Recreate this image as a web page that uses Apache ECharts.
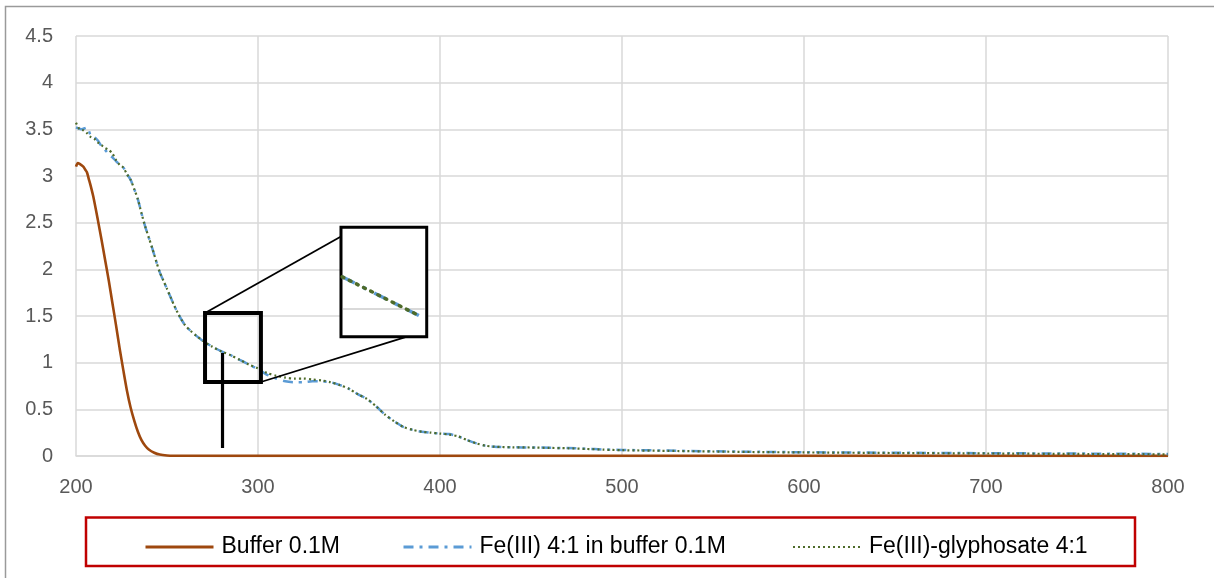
<!DOCTYPE html>
<html>
<head>
<meta charset="utf-8">
<script src="https://cdn.jsdelivr.net/npm/echarts@6/dist/echarts.min.js"></script>
<style>
html,body{margin:0;padding:0;background:#fff;}
#chart{width:1214px;height:578px;}
</style>
</head>
<body>
<div id="chart"></div>
<script>
// ---- Data ----
const seriesNames = ['Buffer 0.1M', 'Fe(III) 4:1 in buffer 0.1M', 'Fe(III)-glyphosate 4:1'];

const bufferWl  = [200, 201, 202, 204, 205, 206, 207, 208, 209.5, 212, 214, 216, 218, 220, 222, 224, 226, 228, 230, 232, 234, 236, 238, 240, 243, 246, 250, 255, 260, 300, 400, 500, 600, 700, 800];
const bufferAbs = [3.10, 3.14, 3.13, 3.10, 3.07, 3.04, 2.97, 2.90, 2.78, 2.53, 2.32, 2.10, 1.88, 1.64, 1.40, 1.15, 0.92, 0.70, 0.52, 0.38, 0.26, 0.17, 0.11, 0.07, 0.035, 0.015, 0.006, 0.003, 0.002, 0.001, 0.001, 0.001, 0.001, 0.001, 0.001];

const feWl  = [200, 203, 206, 208, 210, 212, 214, 216, 218, 220, 222, 224, 226, 228, 230, 232, 234, 236, 238, 240, 242, 244, 246, 248, 250, 252, 254, 256, 258, 260, 263, 266, 270, 275, 280, 285, 290, 295, 300, 305, 310, 315, 320, 325, 330, 335, 340, 345, 350, 355, 360, 365, 370, 375, 380, 385, 390, 395, 400, 405, 410, 415, 420, 425, 430, 440, 450, 460, 470, 480, 490, 500, 525, 550, 575, 600, 650, 700, 750, 800];
const feAbs = [3.52, 3.50, 3.52, 3.44, 3.42, 3.38, 3.32, 3.28, 3.23, 3.20, 3.16, 3.12, 3.09, 3.02, 2.96, 2.86, 2.75, 2.60, 2.46, 2.34, 2.22, 2.09, 1.97, 1.88, 1.79, 1.70, 1.61, 1.53, 1.46, 1.40, 1.34, 1.29, 1.23, 1.17, 1.12, 1.08, 1.03, 0.98, 0.93, 0.87, 0.83, 0.80, 0.79, 0.79, 0.80, 0.80, 0.79, 0.76, 0.72, 0.66, 0.61, 0.53, 0.44, 0.37, 0.31, 0.28, 0.26, 0.25, 0.24, 0.235, 0.21, 0.17, 0.135, 0.11, 0.10, 0.093, 0.092, 0.088, 0.085, 0.078, 0.07, 0.065, 0.058, 0.05, 0.045, 0.04, 0.035, 0.03, 0.026, 0.022];

const glyWl  = [200, 202, 204, 206, 208, 210, 212, 214, 216, 218, 220, 222, 224, 226, 228, 230, 232, 234, 236, 238, 240, 242, 244, 246, 248, 250, 252, 254, 256, 258, 260, 263, 266, 270, 275, 280, 285, 290, 295, 300, 305, 310, 315, 320, 325, 330, 335, 340, 345, 350, 355, 360, 365, 370, 375, 380, 385, 390, 395, 400, 405, 410, 415, 420, 425, 430, 440, 450, 460, 470, 480, 490, 500, 525, 550, 575, 600, 650, 700, 750, 800];
const glyAbs = [3.57, 3.50, 3.49, 3.46, 3.42, 3.40, 3.36, 3.33, 3.30, 3.28, 3.24, 3.17, 3.12, 3.09, 3.02, 2.96, 2.86, 2.75, 2.60, 2.46, 2.34, 2.22, 2.09, 1.97, 1.88, 1.79, 1.70, 1.61, 1.53, 1.46, 1.40, 1.34, 1.29, 1.23, 1.17, 1.12, 1.08, 1.03, 0.98, 0.94, 0.89, 0.86, 0.84, 0.83, 0.83, 0.82, 0.81, 0.79, 0.76, 0.72, 0.66, 0.61, 0.53, 0.44, 0.37, 0.31, 0.28, 0.26, 0.25, 0.24, 0.23, 0.21, 0.17, 0.135, 0.11, 0.10, 0.093, 0.091, 0.087, 0.083, 0.076, 0.068, 0.062, 0.055, 0.048, 0.042, 0.038, 0.032, 0.027, 0.022, 0.018];

const xTicks = [200, 300, 400, 500, 600, 700, 800];
const yTicks = [0, 0.5, 1, 1.5, 2, 2.5, 3, 3.5, 4, 4.5];

// Annotation (zoom inset) expressed in data coordinates
const insetSmall = [[270.9, 1.532], [301.6, 0.793]];
const insetBig   = [[345.6, 2.45], [392.7, 1.278]];
const insetStem  = [[280.5, 1.104], [280.5, 0.086]];
const insetConn1 = [[270.9, 1.532], [345.6, 2.352]];
const insetConn2 = [[301.6, 0.793], [381.9, 1.278]];
const insetCurve = [[346.2, 1.921], [388.6, 1.503]];
const insetGridY = 1.575;

// ---- Chart ----
const zip = (a, b) => a.map((v, i) => [v, b[i]]);
const colors = ['#9E480E', '#5B9BD5', '#4E6B2A'];
const lineTypes = ['solid', [10, 6, 3, 6], [2, 3]];
const chart = echarts.init(document.getElementById('chart'), null, {renderer: 'canvas'});
const labelFont = {fontFamily: 'Liberation Sans, Arial, sans-serif', fontSize: 20, color: '#595959'};
const legendFont = {fontFamily: 'Liberation Sans, Arial, sans-serif', fontSize: 23, color: '#000', lineHeight: 26, padding: [0, 0, 0, 3]};

function mkLegend(i, left) {
  return {
    data: [{name: seriesNames[i], itemStyle: {opacity: 0},
            lineStyle: {width: i === 2 ? 2 : 3, color: colors[i], type: lineTypes[i]}}],
    left: left, top: 529, itemWidth: 68, itemHeight: 26,
    textStyle: legendFont, selectedMode: false
  };
}

chart.setOption({
  animation: false,
  color: colors,
  grid: {left: 76, right: 46, top: 36, bottom: 122},
  xAxis: {
    type: 'value', min: xTicks[0], max: xTicks[xTicks.length - 1], interval: 100,
    axisLine: {show: true, lineStyle: {color: '#D9D9D9', width: 1.5}},
    axisTick: {show: false},
    axisLabel: Object.assign({margin: 21}, labelFont),
    splitLine: {show: true, lineStyle: {color: '#D9D9D9', width: 1.5}}
  },
  yAxis: {
    type: 'value', min: yTicks[0], max: yTicks[yTicks.length - 1], interval: 0.5,
    axisLine: {show: false}, axisTick: {show: false},
    axisLabel: Object.assign({margin: 23}, labelFont),
    splitLine: {show: true, lineStyle: {color: '#D9D9D9', width: 1.5}}
  },
  legend: [mkLegend(0, 139), mkLegend(1, 397), mkLegend(2, 787)],
  series: [
    {name: seriesNames[0], type: 'line', data: zip(bufferWl, bufferAbs), showSymbol: false, symbol: 'none',
     smooth: 0.25, lineStyle: {color: colors[0], width: 2.6, type: lineTypes[0]}, z: 2},
    {name: seriesNames[1], type: 'line', data: zip(feWl, feAbs), showSymbol: false, symbol: 'none',
     smooth: 0.25, lineStyle: {color: colors[1], width: 2.5, type: lineTypes[1]}, z: 3},
    {name: seriesNames[2], type: 'line', data: zip(glyWl, glyAbs), showSymbol: false, symbol: 'none',
     smooth: 0.25, lineStyle: {color: colors[2], width: 2.2, type: lineTypes[2]}, z: 4}
  ]
});

function px(p) { return chart.convertToPixel({gridIndex: 0}, p); }
function drawAnnotations() {
  const s0 = px(insetSmall[0]), s1 = px(insetSmall[1]);
  const b0 = px(insetBig[0]), b1 = px(insetBig[1]);
  const st0 = px(insetStem[0]), st1 = px(insetStem[1]);
  const c10 = px(insetConn1[0]), c11 = px(insetConn1[1]);
  const c20 = px(insetConn2[0]), c21 = px(insetConn2[1]);
  const k0 = px(insetCurve[0]), k1 = px(insetCurve[1]);
  const gy = px([insetBig[0][0], insetGridY])[1];
  chart.setOption({
    graphic: [
      {type: 'rect', shape: {x: 5.5, y: 6.5, width: 1400, height: 800}, style: {fill: null, stroke: '#9A9A9A', lineWidth: 1.5}, z: 1},
      {type: 'rect', shape: {x: 86, y: 517.5, width: 1049, height: 48.5}, style: {fill: null, stroke: '#C00000', lineWidth: 2.5}, z: 1},
      {type: 'line', shape: {x1: c10[0], y1: c10[1], x2: c11[0], y2: c11[1]}, style: {stroke: '#000', lineWidth: 1.8}, z: 10},
      {type: 'line', shape: {x1: c20[0], y1: c20[1], x2: c21[0], y2: c21[1]}, style: {stroke: '#000', lineWidth: 1.8}, z: 10},
      {type: 'line', shape: {x1: st0[0], y1: st0[1], x2: st1[0], y2: st1[1]}, style: {stroke: '#000', lineWidth: 3.2}, z: 10},
      {type: 'rect', shape: {x: s0[0], y: s0[1], width: s1[0] - s0[0], height: s1[1] - s0[1]}, style: {fill: null, stroke: '#000', lineWidth: 4}, z: 11},
      {type: 'rect', shape: {x: b0[0], y: b0[1], width: b1[0] - b0[0], height: b1[1] - b0[1]}, style: {fill: '#fff', stroke: '#000', lineWidth: 3}, z: 11},
      {type: 'line', shape: {x1: b0[0] + 2, y1: gy, x2: b1[0] - 2, y2: gy}, style: {stroke: '#D9D9D9', lineWidth: 2}, z: 12},
      {type: 'line', shape: {x1: k0[0], y1: k0[1], x2: k1[0], y2: k1[1]}, style: {stroke: colors[1], lineWidth: 3.5, lineDash: [14, 9, 4, 9]}, z: 13},
      {type: 'line', shape: {x1: k0[0], y1: k0[1], x2: k1[0], y2: k1[1]}, style: {stroke: colors[2], lineWidth: 3.5, lineDash: [2, 6], lineCap: 'round'}, z: 14}
    ]
  });
}
drawAnnotations();
</script>
</body>
</html>
